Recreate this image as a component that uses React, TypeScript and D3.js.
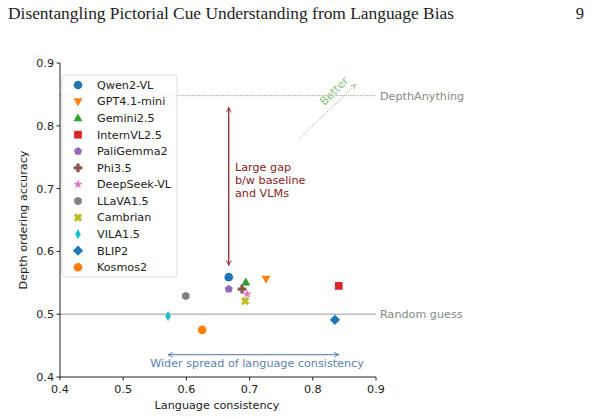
import React from "react";
import * as d3 from "d3";

const models = ["Qwen2-VL","GPT4.1-mini","Gemini2.5","InternVL2.5","PaliGemma2","Phi3.5","DeepSeek-VL","LLaVA1.5","Cambrian","VILA1.5","BLIP2","Kosmos2"];
const consistency = [0.667,0.726,0.694,0.841,0.667,0.688,0.696,0.599,0.693,0.571,0.835,0.625];
const accuracy = [0.559,0.556,0.551,0.545,0.540,0.540,0.532,0.529,0.521,0.497,0.491,0.475];
const colors = ["#1f77b4","#ff7f0e","#2ca02c","#d62728","#9467bd","#8c564b","#e377c2","#7f7f7f","#bcbd22","#17becf","#1f77b4","#ff7f0e"];
const shapes = ["circle","tridown","triup","square","pentagon","plus","star","hexagon","xfill","thindiamond","diamond","circle"];
const xTicks = [0.4,0.5,0.6,0.7,0.8,0.9];
const yTicks = [0.4,0.5,0.6,0.7,0.8,0.9];
const depthAnything = 0.848;
const randomGuess = 0.5;

const FONT = "DejaVu Sans, sans-serif";
const FS = 11.2;

function poly(pts: [number, number][]) {
  return "M" + pts.map(p => p[0].toFixed(2) + "," + p[1].toFixed(2)).join("L") + "Z";
}
function regular(n: number, r: number, rot: number) {
  const pts: [number, number][] = [];
  for (let i = 0; i < n; i++) {
    const a = rot + (i * 2 * Math.PI) / n;
    pts.push([r * Math.sin(a), -r * Math.cos(a)]);
  }
  return poly(pts);
}
function markerPath(shape: string, s: number) {
  switch (shape) {
    case "circle": return d3.symbol(d3.symbolCircle, Math.PI * s * s)()!;
    case "triup": return poly([[0, -s * 1.1], [s * 1.05, s * 0.75], [-s * 1.05, s * 0.75]]);
    case "tridown": return poly([[0, s * 1.1], [s * 1.05, -s * 0.75], [-s * 1.05, -s * 0.75]]);
    case "square": return poly([[-s * 0.9, -s * 0.9], [s * 0.9, -s * 0.9], [s * 0.9, s * 0.9], [-s * 0.9, s * 0.9]]);
    case "pentagon": return regular(5, s * 1.0, 0);
    case "hexagon": return regular(6, s * 1.0, 0);
    case "diamond": return poly([[0, -s * 1.2], [s * 1.2, 0], [0, s * 1.2], [-s * 1.2, 0]]);
    case "thindiamond": return poly([[0, -s * 1.2], [s * 0.65, 0], [0, s * 1.2], [-s * 0.65, 0]]);
    case "star": {
      const pts: [number, number][] = [];
      for (let i = 0; i < 10; i++) {
        const r = i % 2 === 0 ? s * 1.15 : s * 0.45;
        const a = (i * Math.PI) / 5;
        pts.push([r * Math.sin(a), -r * Math.cos(a)]);
      }
      return poly(pts);
    }
    case "plus": {
      const a = s * 1.0, b = s * 0.38;
      return poly([[-b, -a], [b, -a], [b, -b], [a, -b], [a, b], [b, b], [b, a], [-b, a], [-b, b], [-a, b], [-a, -b], [-b, -b]]);
    }
    case "xfill": {
      const a = s * 1.0, b = s * 0.38;
      const base: [number, number][] = [[-b, -a], [b, -a], [b, -b], [a, -b], [a, b], [b, b], [b, a], [-b, a], [-b, b], [-a, b], [-a, -b], [-b, -b]];
      const c = Math.cos(Math.PI / 4), sn = Math.sin(Math.PI / 4);
      return poly(base.map(([x, y]) => [x * c - y * sn, x * sn + y * c] as [number, number]));
    }
  }
  return "";
}

export default function App() {
  const W = 592, H = 417;
  const x = d3.scaleLinear().domain([0.4, 0.9]).range([60, 376]);
  const y = d3.scaleLinear().domain([0.4, 0.9]).range([377, 63]);
  const fmt = d3.format(".1f");
  const legX = 62, legY = 75, legW = 115, legH = 202, legStep = 16.57;

  return (
    <svg width={W} height={H} style={{ position: "absolute", left: 0, top: 0 }} fontFamily={FONT}>
      <defs>
        <marker id="arrRed" viewBox="0 0 10 10" refX="9" refY="5" markerWidth="6" markerHeight="6" orient="auto-start-reverse" markerUnits="userSpaceOnUse">
          <path d="M1,1 L9,5 L1,9" fill="none" stroke="#8b1a1a" strokeWidth="1.4" />
        </marker>
        <marker id="arrBlue" viewBox="0 0 10 10" refX="9" refY="5" markerWidth="6" markerHeight="6" orient="auto-start-reverse" markerUnits="userSpaceOnUse">
          <path d="M1,1 L9,5 L1,9" fill="none" stroke="#4a76a8" strokeWidth="1.4" />
        </marker>
        <marker id="arrGreen" viewBox="0 0 10 10" refX="9" refY="5" markerWidth="6" markerHeight="6" orient="auto" markerUnits="userSpaceOnUse">
          <path d="M1,1 L9,5 L1,9" fill="none" stroke="#86b86f" strokeWidth="1.2" />
        </marker>
      </defs>
      <rect width={W} height={H} fill="#fff" />
      {/* Header */}
      <text x={8} y={19} fontFamily="Liberation Serif, serif" fontSize={16.5} textLength={446} lengthAdjust="spacingAndGlyphs" fill="#222">Disentangling Pictorial Cue Understanding from Language Bias</text>
      <text x={584} y={19} fontFamily="Liberation Serif, serif" fontSize={16.5} textAnchor="end" fill="#222">9</text>

      {/* reference lines */}
      <line x1={x(0.4)} x2={x(0.9)} y1={y(depthAnything)} y2={y(depthAnything)} stroke="#999" strokeWidth={1} strokeDasharray="1.2,1.2" />
      <text x={380} y={y(depthAnything)} dy="0.35em" fontSize={FS} fill="#888">DepthAnything</text>
      <line x1={x(0.4)} x2={x(0.9)} y1={y(randomGuess)} y2={y(randomGuess)} stroke="#bbb" strokeWidth={1.5} />
      <text x={380} y={y(randomGuess)} dy="0.35em" fontSize={FS} fill="#888">Random guess</text>

      {/* axes */}
      <line x1={60} x2={60} y1={63} y2={377} stroke="#222" strokeWidth={1} />
      <line x1={60} x2={376} y1={377} y2={377} stroke="#222" strokeWidth={1} />
      {xTicks.map(t => (
        <g key={"x" + t}>
          <line x1={x(t)} x2={x(t)} y1={377} y2={380.5} stroke="#222" />
          <text x={x(t)} y={389} dy="0.35em" textAnchor="middle" fontSize={FS} fill="#222">{fmt(t)}</text>
        </g>
      ))}
      {yTicks.map(t => (
        <g key={"y" + t}>
          <line x1={56.5} x2={60} y1={y(t)} y2={y(t)} stroke="#222" />
          <text x={54} y={y(t)} dy="0.35em" textAnchor="end" fontSize={FS} fill="#222">{fmt(t)}</text>
        </g>
      ))}
      <text x={217} y={405} dy="0.35em" textAnchor="middle" fontSize={FS} fill="#222">Language consistency</text>
      <text transform={`translate(23,${220}) rotate(-90)`} dy="0.35em" textAnchor="middle" fontSize={FS} fill="#222">Depth ordering accuracy</text>

      {/* annotations */}
      <line x1={x(0.667)} x2={x(0.667)} y1={y(0.829)} y2={y(0.578)} stroke="#8b1a1a" strokeWidth={1.2} markerStart="url(#arrRed)" markerEnd="url(#arrRed)" />
      <text x={235} y={167} fontSize={FS} fill="#8b1a1a">
        <tspan x={235} dy="0.35em">Large gap</tspan>
        <tspan x={235} dy="1.15em">b/w baseline</tspan>
        <tspan x={235} dy="1.15em">and VLMs</tspan>
      </text>
      <line x1={x(0.571)} x2={x(0.841)} y1={y(0.4355)} y2={y(0.4355)} stroke="#4a76a8" strokeWidth={1} markerStart="url(#arrBlue)" markerEnd="url(#arrBlue)" />
      <text x={257} y={363} dy="0.35em" textAnchor="middle" fontSize={FS} fill="#5a82b0">Wider spread of language consistency</text>
      <line x1={x(0.778)} y1={y(0.779)} x2={x(0.868)} y2={y(0.866)} stroke="#86b86f" strokeWidth={1} strokeDasharray="1.2,1.4" markerEnd="url(#arrGreen)" />
      <text transform="translate(334,91) rotate(-45)" dy="0.35em" textAnchor="middle" fontSize={FS} fill="#8fbf7f">Better</text>

      {/* points */}
      {models.map((m, i) => (
        <path key={m} d={markerPath(shapes[i], 4.3)} transform={`translate(${x(consistency[i])},${y(accuracy[i])})`} fill={colors[i]} />
      ))}

      {/* legend */}
      <rect x={legX} y={legY} width={legW} height={legH} rx={2.5} fill="#fff" fillOpacity={0.85} stroke="#ddd" strokeWidth={1} />
      {models.map((m, i) => (
        <g key={"l" + m} transform={`translate(0,${legY + 10 + i * legStep})`}>
          <path d={markerPath(shapes[i], 4.3)} transform={`translate(78,0)`} fill={colors[i]} />
          <text x={97} y={0} dy="0.35em" fontSize={FS} fill="#222">{m}</text>
        </g>
      ))}
    </svg>
  );
}
